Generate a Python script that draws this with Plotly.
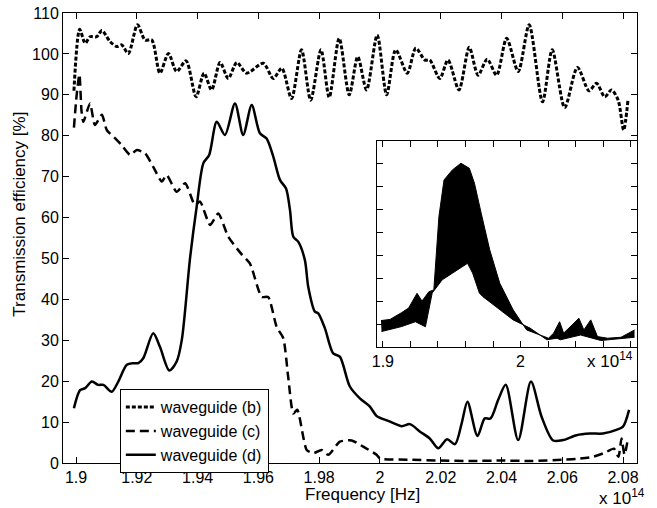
import plotly.graph_objects as go

# frequencies in units of 1e14 Hz, efficiency in %
freq_b = [1.8993, 1.9012, 1.9030, 1.9046, 1.9068, 1.9085, 1.9112, 1.9134, 1.9150, 1.9172,
          1.9202, 1.9227, 1.9249, 1.9276, 1.9304, 1.9331, 1.9362, 1.9395, 1.9421, 1.9446,
          1.9474, 1.9501, 1.9529, 1.9561, 1.9616, 1.9649, 1.9677, 1.9709, 1.9742, 1.9772,
          1.9806, 1.9833, 1.9866, 1.9899, 1.9927, 1.9956, 1.9991, 2.0022, 2.0052, 2.0090,
          2.0118, 2.0148, 2.0164, 2.0197, 2.0224, 2.0260, 2.0294, 2.0323, 2.0353, 2.0384,
          2.0417, 2.0455, 2.0491, 2.0535, 2.0567, 2.0608, 2.0650, 2.0688, 2.0713, 2.0740,
          2.0762, 2.0784, 2.0802, 2.0816]
eff_b = [91, 106, 102.6, 104.2, 104.2, 105.7, 103, 101.8, 102.2, 100.1,
         107.1, 103.4, 103.4, 95.3, 100.1, 95.7, 98.3, 89.5, 95.3, 91.2,
         97.9, 94.0, 97.9, 95.3, 97.7, 94.0, 96.5, 89.1, 101, 88.7,
         101, 89.4, 103.8, 90, 99.3, 91.2, 104.6, 90, 101, 95.3,
         101.4, 98.5, 98.5, 94.0, 98.5, 91.2, 101.6, 94.8, 98.7, 94.8,
         103.8, 95.7, 107.1, 88.3, 101, 86.9, 96.7, 91.0, 92.8, 89.5,
         91.2, 88.7, 81.4, 88.5]

freq_c = [1.8993, 1.9002, 1.9011, 1.9018, 1.9024, 1.9046, 1.9062, 1.9085, 1.9101, 1.9128,
          1.9150, 1.9178, 1.9200, 1.9227, 1.9254, 1.9282, 1.9298, 1.9331, 1.9359, 1.9391,
          1.9408, 1.9441, 1.9468, 1.9501, 1.9545, 1.9572, 1.9611, 1.9632, 1.9660, 1.9682,
          1.9698, 1.9715, 1.9728, 1.9759, 1.9781, 1.9808, 1.9830, 1.9868, 1.9907, 1.9945,
          1.9989, 2.0000, 2.0100, 2.0200, 2.0300, 2.0400, 2.0500, 2.0600, 2.0650, 2.0700,
          2.0740, 2.0770, 2.0785, 2.0795, 2.0805, 2.0815]
eff_c = [82, 90, 95, 86, 83.4, 87.9, 82.6, 85.1, 81.4, 79.4,
         77.7, 75.3, 76.5, 75.7, 72.4, 68.8, 70.4, 66.3, 68.4, 63.1,
         63.9, 58.2, 61, 55.3, 51, 48.8, 40.6, 40.6, 33.3, 30.5,
         21.1, 12.1, 13, 3.2, 2.4, 3.2, 2, 5.2, 5.5, 4,
         2, 1.1, 0.8, 0.6, 0.5, 0.6, 0.5, 0.8, 1.0, 1.5,
         2.5, 3.5, 1.5, 6, 2, 5.5]

freq_d = [1.8993, 1.9013, 1.9030, 1.9052, 1.9073, 1.9090, 1.9117, 1.9139, 1.9167, 1.9188,
          1.9205, 1.9221, 1.9254, 1.9276, 1.9307, 1.9331, 1.9348, 1.9375, 1.9397, 1.9419,
          1.9438, 1.9463, 1.9490, 1.9523, 1.9550, 1.9578, 1.9605, 1.9627, 1.9649, 1.9671,
          1.9691, 1.9704, 1.9715, 1.9731, 1.9753, 1.9764, 1.9786, 1.9797, 1.9819, 1.9846,
          1.9868, 1.9901, 1.9934, 1.9967, 1.9989, 2.0027, 2.0071, 2.0099, 2.0131, 2.0164,
          2.0192, 2.0221, 2.0247, 2.0269, 2.0288, 2.0321, 2.0345, 2.0364, 2.0389, 2.0414,
          2.0455, 2.0497, 2.0532, 2.0570, 2.0603, 2.0647, 2.0691, 2.0734, 2.0778, 2.0800,
          2.0820]
eff_d = [13.4, 17.8, 18.3, 19.9, 19.1, 19.1, 17.4, 19.9, 24, 24.4,
         24.4, 25.6, 31.7, 28.4, 22.6, 24.8, 30.1, 50, 62.7, 73.3,
         75.3, 83.4, 80.2, 87.9, 80.2, 87.5, 80.6, 79.3, 74.9, 69.2,
         67.1, 61.8, 55.3, 54.1, 49.6, 43.1, 37, 36.6, 32.9, 26.8,
         26, 18.7, 15.8, 13.8, 11.5, 10.3, 9.0, 9.5, 7.7, 6.0,
         3.6, 5.8, 4.6, 9.7, 15, 6.6, 10.9, 10.9, 15.4, 19.1,
         5.6, 19.9, 11.3, 5.5, 5.6, 6.8, 7.2, 7.2, 8.1, 8.9,
         13]

# inset: envelope of the fast-oscillating band (arbitrary units)
inset_freq_upper = [1.8986, 1.9052, 1.9137, 1.9187, 1.9248, 1.9284, 1.9334, 1.9370, 1.9407, 1.9444,
                    1.9505, 1.9567, 1.9628, 1.9665, 1.9714, 1.9776, 1.9849, 1.9946, 2.0044, 2.0150,
                    2.0203, 2.0240, 2.0284, 2.0313, 2.0363, 2.0424, 2.0460, 2.0510, 2.0559, 2.0632,
                    2.0730, 2.0828]
inset_upper = [1.15, 1.2, 1.5, 1.7, 2.34, 2.0, 2.41, 2.49, 5.69, 7.29,
               7.73, 8.02, 7.8, 7.15, 5.84, 4.24, 2.78, 1.62, 0.74, 0.5,
               0.38, 0.6, 1.1, 0.6, 0.89, 1.25, 0.74, 1.18, 0.45, 0.38,
               0.42, 0.74]
inset_freq_lower = [1.8990, 1.9137, 1.9236, 1.9309, 1.9358, 1.9431, 1.9505, 1.9615, 1.9652, 1.9701,
                    1.9725, 1.9824, 1.9946, 2.0069, 2.0191, 2.0265, 2.0289, 2.0436, 2.0583, 2.0828]
inset_lower = [0.67, 0.89, 1.1, 0.88, 2.35, 2.93, 3.22, 3.65, 3.22, 2.35,
               2.2, 1.76, 1.18, 0.82, 0.31, 0.38, 0.31, 0.52, 0.28, 0.42]

x_ticks = [1.9, 1.92, 1.94, 1.96, 1.98, 2.0, 2.02, 2.04, 2.06, 2.08]
x_ticktext = ['1.9', '1.92', '1.94', '1.96', '1.98', '2', '2.02', '2.04', '2.06', '2.08']
inset_ticktext = ['1.9', '', '', '', '', '2', '', '', '', '']

FONT = 'Liberation Sans, Arial, sans-serif'

fig = go.Figure()
fig.add_trace(go.Scatter(x=freq_b, y=eff_b, name='waveguide (b)', mode='lines',
                         line=dict(color='black', width=3, dash='4px,2px', shape='spline', smoothing=0.8)))
fig.add_trace(go.Scatter(x=freq_c, y=eff_c, name='waveguide (c)', mode='lines',
                         line=dict(color='black', width=2.5, dash='9px,5px', shape='spline', smoothing=0.6)))
fig.add_trace(go.Scatter(x=freq_d, y=eff_d, name='waveguide (d)', mode='lines',
                         line=dict(color='black', width=2.5, shape='spline', smoothing=0.8)))

fig.add_trace(go.Scatter(x=inset_freq_lower, y=inset_lower, mode='lines', showlegend=False,
                         line=dict(color='black', width=1), xaxis='x2', yaxis='y2'))
fig.add_trace(go.Scatter(x=inset_freq_upper, y=inset_upper, mode='lines', showlegend=False,
                         fill='tonexty', fillcolor='black',
                         line=dict(color='black', width=1), xaxis='x2', yaxis='y2'))

axis_common = dict(showline=True, linecolor='black', linewidth=1, mirror='ticks',
                   ticks='inside', ticklen=6, tickcolor='black', showgrid=False, zeroline=False,
                   automargin=False)

fig.update_layout(
    width=657, height=508,
    margin=dict(l=63, r=20, t=13, b=45, autoexpand=False),
    paper_bgcolor='white', plot_bgcolor='white',
    font=dict(family=FONT, size=16, color='black'),
    xaxis=dict(range=[1.8957, 2.0846], tickvals=x_ticks, ticktext=x_ticktext, domain=[0, 1], **axis_common),
    yaxis=dict(range=[0, 110], dtick=10, domain=[0, 1], **axis_common),
    xaxis2=dict(range=[1.8957, 2.0846], tickvals=x_ticks, ticktext=inset_ticktext,
                domain=[0.547, 1.0], anchor='y2', **axis_common),
    yaxis2=dict(range=[0, 9], dtick=1, showticklabels=False,
                domain=[0.258, 0.716], anchor='x2', **axis_common),
    legend=dict(x=0.099, y=0.164, xanchor='left', yanchor='top', traceorder='normal',
                bgcolor='white', bordercolor='black', borderwidth=1,
                font=dict(size=16), tracegroupgap=0, itemwidth=30),
    annotations=[
        dict(text='Transmission efficiency [%]', textangle=-90, x=-0.075, y=0.554,
             xanchor='center', yanchor='middle',
             xref='paper', yref='paper', showarrow=False, font=dict(size=17)),
        dict(text='Frequency [Hz]', x=0.521, y=-0.069, xanchor='center', yanchor='middle',
             xref='paper', yref='paper', showarrow=False, font=dict(size=17)),
        dict(text='x 10<sup>14</sup>', x=0.974, y=-0.076, xanchor='center', yanchor='middle',
             xref='paper', yref='paper', showarrow=False, font=dict(size=17)),
        dict(text='x 10<sup>14</sup>', x=0.953, y=0.229, xanchor='center', yanchor='middle',
             xref='paper', yref='paper', showarrow=False, font=dict(size=17)),
    ],
)

# drop the default page margin so the figure sits at the window's corner
fig.write_html("out.html", config={'displayModeBar': False},
               post_script="document.body.style.margin='0';")
